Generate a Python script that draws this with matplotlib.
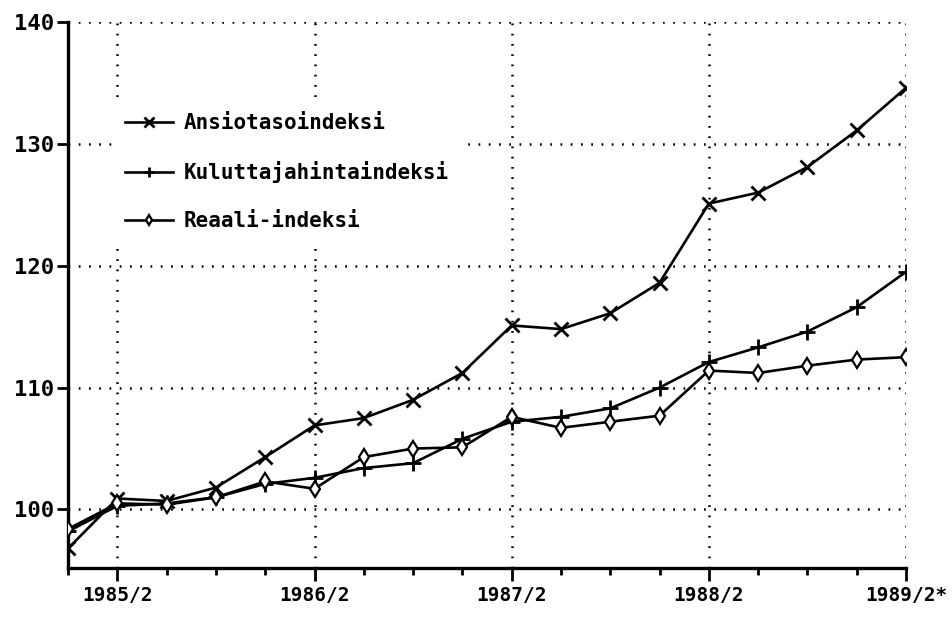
import matplotlib
matplotlib.use('Agg')
import matplotlib.pyplot as plt
from matplotlib.ticker import MultipleLocator

# Quarterly index values 1985/1 .. 1989/2
quarters = list(range(18))
ansio = [96.8, 100.9, 100.7, 101.8, 104.3, 106.9, 107.5, 109.0, 111.2,
         115.1, 114.8, 116.1, 118.6, 125.1, 126.0, 128.1, 131.1, 134.6]
kulutus = [98.2, 100.3, 100.5, 101.0, 102.1, 102.6, 103.4, 103.8, 105.8,
           107.2, 107.6, 108.3, 110.0, 112.1, 113.3, 114.6, 116.6, 119.5]
reaali = [98.4, 100.5, 100.4, 101.0, 102.3, 101.7, 104.3, 105.0, 105.1,
          107.6, 106.7, 107.2, 107.7, 111.4, 111.2, 111.8, 112.3, 112.5]
major_pos = [1, 5, 9, 13, 17]
major_labels = ['1985/2', '1986/2', '1987/2', '1988/2', '1989/2*']
y_ticks = [100, 110, 120, 130, 140]

font = {'family': 'DejaVu Sans Mono', 'weight': 'bold'}

fig = plt.figure(figsize=(9.53, 6.19), dpi=100)
ax = fig.add_axes([0.0714, 0.0824, 0.8793, 0.8821])

dots = (0, (0.7, 3.4))
for x in major_pos:
  ax.axvline(x, color='black', lw=1.8, ls=dots, zorder=1)
for y in y_ticks:
  ax.axhline(y, color='black', lw=1.8, ls=dots, zorder=1)

ax.plot(quarters, ansio, color='black', lw=1.9, marker='x', ms=10, mew=2,
        label='Ansiotasoindeksi', zorder=3)
ax.plot(quarters, kulutus, color='black', lw=1.9, marker='+', ms=11, mew=2,
        label='Kuluttajahintaindeksi', zorder=3)
ax.plot(quarters, reaali, color='black', lw=1.9, marker='d', ms=8, mew=1.6,
        mfc='white', label='Reaali-indeksi', zorder=3)

ax.set_xlim(0, 17)
ax.set_ylim(95.2, 140)
ax.set_xticks(major_pos)
ax.set_xticklabels(major_labels, fontdict=font, fontsize=14)
ax.xaxis.set_minor_locator(MultipleLocator(1))
ax.set_yticks(y_ticks)
ax.set_yticklabels([str(v) for v in y_ticks], fontdict=font, fontsize=16)

for s in ['top', 'right']:
  ax.spines[s].set_visible(False)
for s in ['left', 'bottom']:
  ax.spines[s].set_linewidth(2.4)
ax.tick_params(axis='x', which='major', direction='out', length=9, width=2, pad=4)
ax.tick_params(axis='x', which='minor', direction='out', length=5, width=2)
ax.tick_params(axis='y', which='major', direction='out', length=8, width=2, pad=2)

leg = ax.legend(loc='upper left', bbox_to_anchor=(0.041, 0.875), frameon=True,
                prop={'family': 'DejaVu Sans Mono', 'weight': 'bold', 'size': 15},
                handlelength=2.3, labelspacing=1.35, markerscale=0.7,
                borderpad=0.6, handletextpad=0.5)
leg.get_frame().set_facecolor('white')
leg.get_frame().set_edgecolor('none')
leg.get_frame().set_alpha(1)
leg.set_zorder(5)

fig.savefig('out.png', dpi=100)
